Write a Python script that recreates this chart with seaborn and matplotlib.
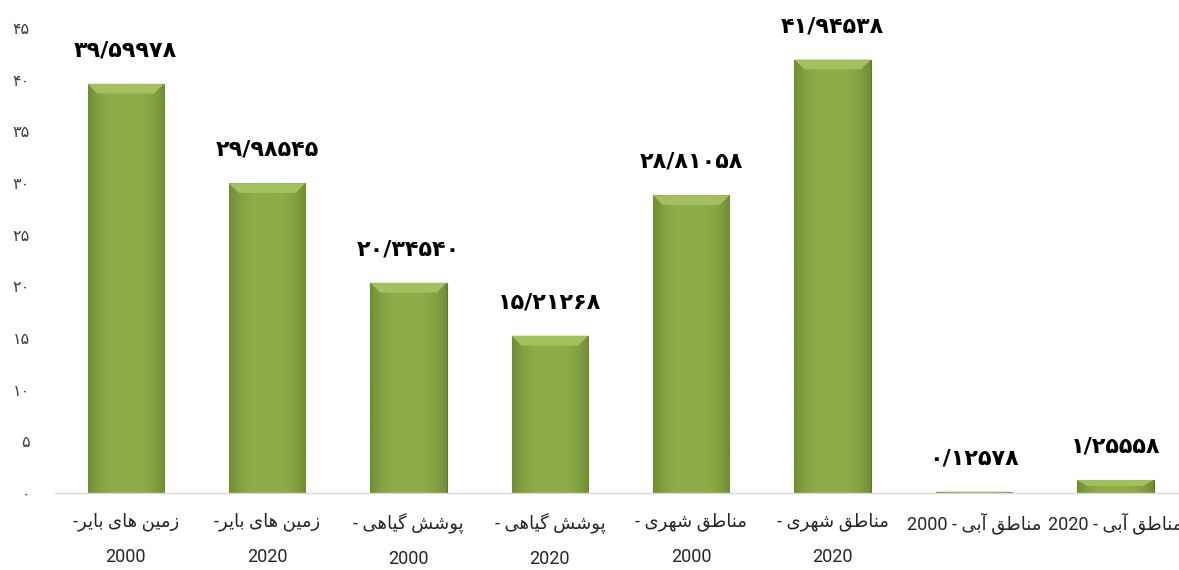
import re
import numpy as np
import pandas as pd
import matplotlib
matplotlib.use("Agg")
import matplotlib.pyplot as plt
import seaborn as sns
from matplotlib.colors import to_rgb
from matplotlib.patches import Polygon

# data
categories = ["زمین های بایر-\n2000", "زمین های بایر-\n2020",
              "پوشش گیاهی -\n2000", "پوشش گیاهی -\n2020",
              "مناطق شهری -\n2000", "مناطق شهری -\n2020",
              "مناطق آبی - 2000", "مناطق آبی - 2020"]
values = [39.59978, 29.98545, 20.34540, 15.21268,
          28.81058, 41.94538, 0.12578, 1.25558]
y_ticks = [0, 5, 10, 15, 20, 25, 30, 35, 40, 45]

# simple arabic/persian shaping (no reshaper lib in the sandbox)
FORMS = {
    'ا': ('\uFE8D', '\uFE8E', None, None),
    'آ': ('\uFE81', '\uFE82', None, None),
    'ب': ('\uFE8F', '\uFE90', '\uFE91', '\uFE92'),
    'پ': ('\uFB56', '\uFB57', '\uFB58', '\uFB59'),
    'ر': ('\uFEAD', '\uFEAE', None, None),
    'ز': ('\uFEAF', '\uFEB0', None, None),
    'ش': ('\uFEB5', '\uFEB6', '\uFEB7', '\uFEB8'),
    'ط': ('\uFEC1', '\uFEC2', '\uFEC3', '\uFEC4'),
    'ق': ('\uFED5', '\uFED6', '\uFED7', '\uFED8'),
    'گ': ('\uFB92', '\uFB93', '\uFB94', '\uFB95'),
    'م': ('\uFEE1', '\uFEE2', '\uFEE3', '\uFEE4'),
    'ن': ('\uFEE5', '\uFEE6', '\uFEE7', '\uFEE8'),
    'ه': ('\uFEE9', '\uFEEA', '\uFEEB', '\uFEEC'),
    'و': ('\uFEED', '\uFEEE', None, None),
    'ی': ('\uFBFC', '\uFBFD', '\uFBFE', '\uFBFF'),
}


def shape(s):
    out = []
    for i, ch in enumerate(s):
        if ch not in FORMS:
            out.append(ch)
            continue
        prev = s[i - 1] if i > 0 else ''
        nxt = s[i + 1] if i + 1 < len(s) else ''
        jp = prev in FORMS and FORMS[prev][2] is not None
        jn = FORMS[ch][2] is not None and nxt in FORMS
        f = FORMS[ch]
        out.append(f[3] if (jp and jn) else f[1] if jp else f[2] if jn else f[0])
    return ''.join(out)


def rtl(s):
    lines = []
    for line in s.split('\n'):
        rev = shape(line)[::-1]
        rev = re.sub(r'[0-9]+', lambda m: m.group(0)[::-1], rev)
        lines.append(rev)
    return '\n'.join(lines)


def fa_digits(txt):
    return txt.translate(str.maketrans('0123456789.', '۰۱۲۳۴۵۶۷۸۹/'))


df = pd.DataFrame({"cat": categories, "val": values})

sns.set_style("white")
plt.rcParams['font.family'] = ['Roboto', 'DejaVu Sans']

fig = plt.figure(figsize=(11.79, 5.70), dpi=100)
ax = fig.add_axes([55 / 1179, 1 - 493 / 570, 1 - 55 / 1179, (493 - 28) / 570])

sns.barplot(data=df, x="cat", y="val", order=categories, color="#86a43f",
            width=0.54, ax=ax, edgecolor="#5c7627", linewidth=0.8)

# fake the bevelled excel bars: horizontal gradient + light top strip
edge_c = np.array(to_rgb("#6f8d33"))
mid_c = np.array(to_rgb("#8fad4a"))
t = np.linspace(0, 1, 60)
prof = 1 - np.abs(2 * t - 1) ** 3
grad = (edge_c[None, :] * (1 - prof[:, None]) + mid_c[None, :] * prof[:, None])[None, :, :]

for p in ax.patches:
    x0, y0, w, h = p.get_x(), p.get_y(), p.get_width(), p.get_height()
    im = ax.imshow(grad, extent=[x0, x0 + w, y0, y0 + h], aspect='auto',
                   interpolation='bilinear', zorder=p.get_zorder() + 0.1)
    im.set_clip_path(p)
    dy = min(0.95, h * 0.45)
    dx = 0.07
    top = y0 + h
    ax.add_patch(Polygon([(x0, top), (x0 + w, top), (x0 + w - dx, top - dy),
                          (x0 + dx, top - dy)], closed=True,
                         facecolor="#a2c05b", edgecolor="none",
                         zorder=p.get_zorder() + 0.2))

# value labels
for i, v in enumerate(values):
    ax.annotate(fa_digits(f"{v:.5f}"), (i, v), xytext=(0, 24),
                textcoords="offset points", ha="center", va="center",
                fontsize=16, fontweight="bold", color="black",
                family=["DejaVu Sans"])

ax.set_xlim(-0.5, 7.45)
ax.set_ylim(0, 45)
ax.set_yticks(y_ticks)
ax.set_yticklabels([fa_digits(str(v)) for v in y_ticks], fontsize=11.5,
                   color="#404040", family=["DejaVu Sans"])
ax.set_xticks(range(len(categories)))
ax.set_xticklabels([rtl(c) for c in categories], fontsize=13,
                   color="#262626", linespacing=2.2)
ax.tick_params(axis="y", length=0, pad=18)
ax.tick_params(axis="x", length=0, pad=14)
ax.set_xlabel("")
ax.set_ylabel("")

for s in ["top", "right", "left"]:
    ax.spines[s].set_visible(False)
ax.spines["bottom"].set_color("#d9d9d9")
ax.spines["bottom"].set_linewidth(1.0)

fig.savefig("out.png", dpi=100)
